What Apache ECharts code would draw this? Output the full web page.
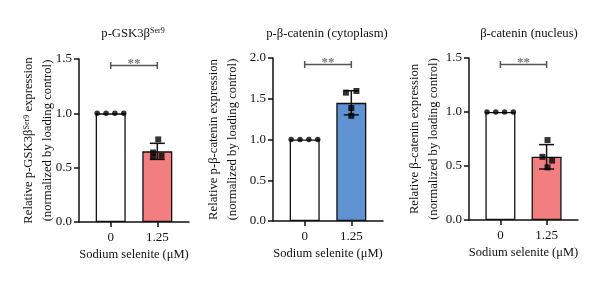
<!DOCTYPE html>
<html>
<head>
<meta charset="utf-8">
<script src="https://cdn.jsdelivr.net/npm/echarts@6/dist/echarts.min.js"></script>
<style>
html,body{margin:0;padding:0;background:#fff;}
#chart{width:600px;height:282px;}
</style>
</head>
<body>
<div id="chart"></div>
<script>
// ---- data ----
const doses = ['0', '1.25'];
const xName = 'Sodium selenite (μM)';
const titles = ['{n|p-GSK3β}{sup|Ser9}', '{n|p-β-catenin (cytoplasm)}', '{n|β-catenin (nucleus)}'];
const yNames = [
  '{n|Relative p-GSK3β}{sup|Ser9}{n| expression}\n{n|(normalized by loading control)}',
  '{n|Relative p-β-catenin expression}\n{n|(normalized by loading control)}',
  '{n|Relative β-catenin expression}\n{n|(normalized by loading control)}'
];
const yMax = [1.5, 2.0, 1.5];
const yInterval = 0.5;
const barMeans = [[1.0, 0.65], [1.0, 1.45], [1.0, 0.585]];
const barSD = [[0, 0.074], [0, 0.148], [0, 0.113]];
const controlPoints = [[1, 1, 1, 1], [1, 1, 1, 1], [1, 1, 1, 1]];
const controlJitter = [-0.29, -0.1, 0.09, 0.28];
const treatedPoints = [[0.76, 0.64, 0.60, 0.61], [1.575, 1.595, 1.386, 1.29], [0.74, 0.585, 0.55, 0.487]];
const treatedJitter = [[0.02, -0.09, -0.09, 0.09], [-0.115, 0.11, 0, 0], [0.02, -0.09, 0.12, 0.02]];
const sigLevel = [1.44, 1.92, 1.44];
const sigText = ['**', '**', '**'];

// ---- style ----
const FONT = 'Liberation Serif';
const treatedColors = ['#F37E80', '#5F92D2', '#F37E80'];
const grids = [
  {left: 79, width: 110, top: 59, height: 163},
  {left: 273, width: 110, top: 58, height: 163},
  {left: 469, width: 109, top: 58, height: 162}
];
const titleX = [128, 322, 524];
const yNameGap = [22, 31, 26];

function richStyles(size, lh, pad) {
  return {
    n: {fontSize: size, fontFamily: FONT, color: '#111', lineHeight: lh, verticalAlign: 'middle'},
    sup: {fontSize: 8, fontFamily: FONT, color: '#111', lineHeight: 11, verticalAlign: 'middle',
      padding: [0, 0, pad, 0]}
  };
}

const option = {
  animation: false,
  backgroundColor: '#fff',
  title: titles.map((t, i) => ({
    text: t, left: titleX[i], top: 20, textAlign: 'center',
    textStyle: {fontFamily: FONT, fontSize: 12.7, fontWeight: 'normal', color: '#111', rich: richStyles(12.7, 17, 5)}
  })),
  grid: grids,
  xAxis: grids.map((g, i) => ({
    type: 'value', gridIndex: i, min: -0.68, max: 1.68,
    splitLine: {show: false},
    axisLine: {show: true, onZero: false, lineStyle: {color: '#111', width: 1.5}},
    axisTick: {show: true, customValues: [0, 1], length: 5, lineStyle: {color: '#111', width: 1.5}},
    axisLabel: {show: true, customValues: [0, 1], margin: 9, fontFamily: FONT, fontSize: 13, color: '#111',
      formatter: v => doses[Math.round(v)]},
    name: xName, nameLocation: 'middle', nameGap: 26, nameMoveOverlap: false,
    nameTextStyle: {fontFamily: FONT, fontSize: 12.5, color: '#111'}
  })),
  yAxis: grids.map((g, i) => ({
    type: 'value', gridIndex: i, min: 0, max: yMax[i], interval: yInterval,
    splitLine: {show: false},
    axisLine: {show: true, onZero: false, lineStyle: {color: '#111', width: 1.5}},
    axisTick: {show: true, length: 5, lineStyle: {color: '#111', width: 1.5}},
    axisLabel: {margin: 7, fontFamily: FONT, fontSize: 13, color: '#111', formatter: v => v.toFixed(1)},
    name: yNames[i], nameLocation: 'middle', nameGap: yNameGap[i], nameMoveOverlap: false,
    nameTextStyle: {fontFamily: FONT, fontSize: 12.7, color: '#111', lineHeight: 19, rich: richStyles(12.7, 19, 3)}
  })),
  series: []
};

for (let i = 0; i < 3; i++) {
  option.series.push({
    type: 'bar', xAxisIndex: i, yAxisIndex: i, barWidth: 30,
    data: barMeans[i].map((m, k) => ({
      value: [k, m],
      itemStyle: {color: k === 0 ? '#FFFFFF' : treatedColors[i], borderColor: '#111', borderWidth: 1.3}
    })),
    z: 2
  });
  option.series.push({
    type: 'custom', xAxisIndex: i, yAxisIndex: i, z: 3,
    data: barMeans[i].map((m, k) => [k, m, barSD[i][k]]).filter(d => d[2] > 0),
    renderItem: (params, api) => {
      const x = api.value(0), m = api.value(1), s = api.value(2);
      const top = api.coord([x, m + s]);
      const bot = api.coord([x, m - s]);
      const hw = 7.5;
      const st = {stroke: '#111', lineWidth: 1.5};
      return {type: 'group', children: [
        {type: 'line', shape: {x1: top[0], y1: top[1], x2: bot[0], y2: bot[1]}, style: st},
        {type: 'line', shape: {x1: top[0] - hw, y1: top[1], x2: top[0] + hw, y2: top[1]}, style: st},
        {type: 'line', shape: {x1: bot[0] - hw, y1: bot[1], x2: bot[0] + hw, y2: bot[1]}, style: st}
      ]};
    }
  });
  option.series.push({
    type: 'scatter', xAxisIndex: i, yAxisIndex: i, z: 4,
    symbol: 'circle', symbolSize: 5.5, itemStyle: {color: '#000'},
    data: controlPoints[i].map((v, k) => [0 + controlJitter[k], v])
  });
  option.series.push({
    type: 'scatter', xAxisIndex: i, yAxisIndex: i, z: 4,
    symbol: 'rect', symbolSize: 6, itemStyle: {color: '#000'},
    data: treatedPoints[i].map((v, k) => [1 + treatedJitter[i][k], v])
  });
  option.series.push({
    type: 'line', xAxisIndex: i, yAxisIndex: i, z: 5,
    symbol: 'rect', symbolSize: [1.5, 7], showSymbol: true,
    lineStyle: {color: '#555', width: 1.5}, itemStyle: {color: '#555'},
    data: [[0, sigLevel[i]], [1, sigLevel[i]]]
  });
  option.series.push({
    type: 'scatter', xAxisIndex: i, yAxisIndex: i, z: 5,
    symbolSize: 0,
    label: {show: true, position: 'top', distance: 0, offset: [0, 5], formatter: sigText[i],
      fontFamily: FONT, fontSize: 13, fontWeight: 'bold', color: '#555'},
    data: [[0.5, sigLevel[i]]]
  });
}

const chart = echarts.init(document.getElementById('chart'), null, {renderer: 'canvas'});
chart.setOption(option);
</script>
</body>
</html>
